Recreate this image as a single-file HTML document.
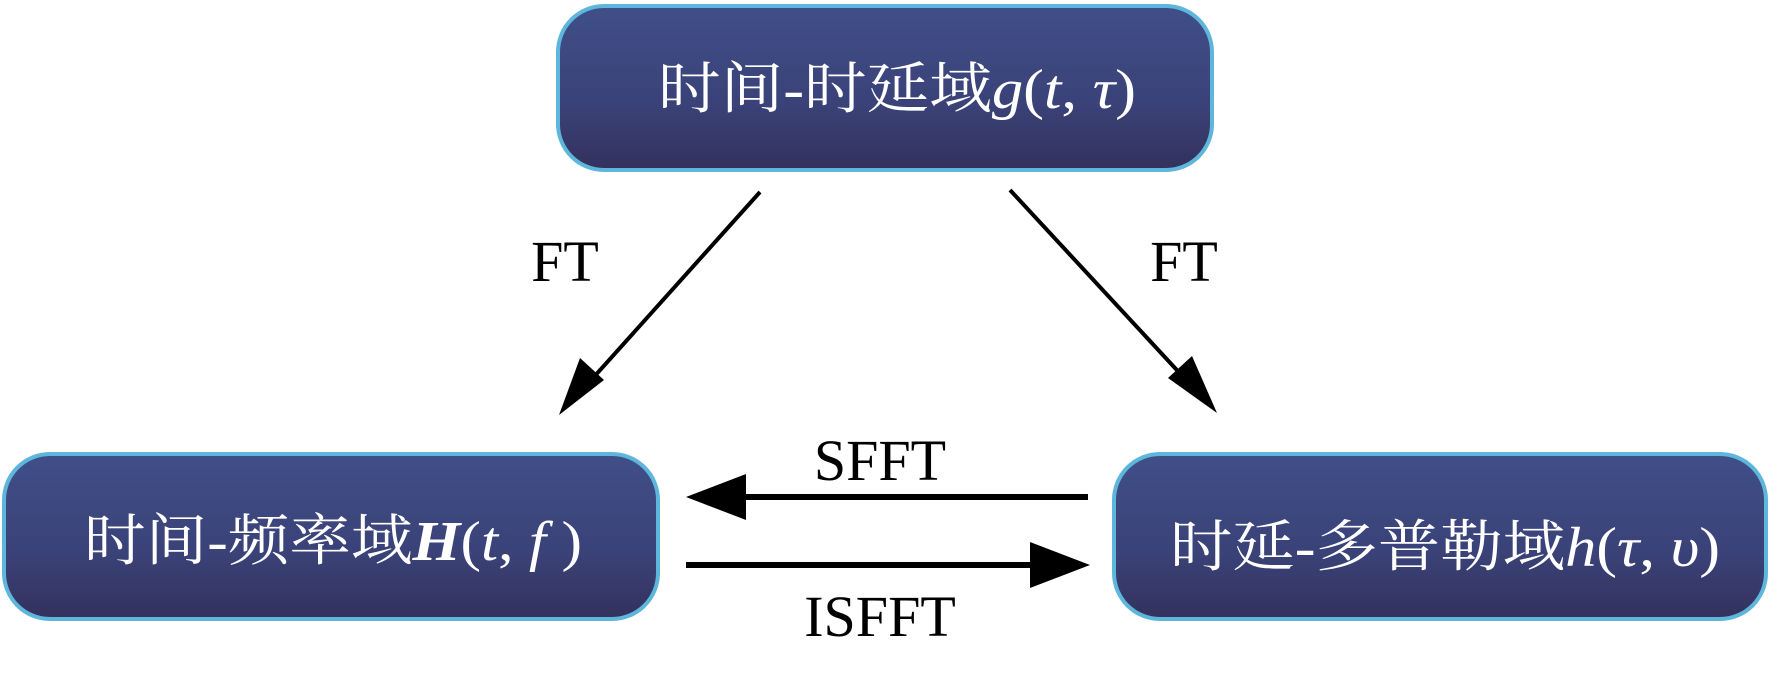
<!DOCTYPE html>
<html><head><meta charset="utf-8"><style>html,body{margin:0;padding:0;background:#fff;}svg{display:block}</style></head>
<body>
<svg width="1772" height="688" viewBox="0 0 1772 688" xmlns="http://www.w3.org/2000/svg">
<defs>
<linearGradient id="g" x1="0" y1="0" x2="0" y2="1">
<stop offset="0" stop-color="#404f88"/><stop offset="0.6" stop-color="#3a4278"/><stop offset="1" stop-color="#33315c"/>
</linearGradient>
</defs>
<g stroke="#5fb6dc" stroke-width="4" fill="url(#g)">
<rect x="558" y="6" width="654" height="164" rx="46"/>
<rect x="4" y="454" width="654" height="165" rx="46"/>
<rect x="1114" y="454" width="652" height="165" rx="46"/>
</g>
<g font-family="'Liberation Serif','Noto Serif CJK SC',serif" fill="#fff" font-size="56">
<text x="658" y="108" textLength="478" lengthAdjust="spacingAndGlyphs">时间-时延域<tspan font-style="italic">g</tspan>(<tspan font-style="italic">t</tspan>, <tspan font-style="italic">τ</tspan>)</text>
<text x="84" y="560" textLength="498" lengthAdjust="spacingAndGlyphs">时间-频率域<tspan font-style="italic" font-weight="bold">H</tspan>(<tspan font-style="italic">t</tspan>, <tspan font-style="italic">f</tspan> )</text>
<text x="1170" y="566" textLength="550" lengthAdjust="spacingAndGlyphs">时延-多普勒域<tspan font-style="italic">h</tspan>(<tspan font-style="italic">τ</tspan>, <tspan font-style="italic">υ</tspan>)</text>
</g>
<g stroke="#000" stroke-width="4" fill="none">
<line x1="760" y1="192" x2="575" y2="398"/>
<line x1="1010" y1="190" x2="1200" y2="395"/>
</g>
<polygon points="559,415 580,358 604,380" fill="#000"/>
<polygon points="1217,413 1168,378 1192,356" fill="#000"/>
<g stroke="#000" stroke-width="6">
<line x1="1088" y1="497" x2="730" y2="497"/>
<line x1="686" y1="565" x2="1040" y2="565"/>
</g>
<polygon points="686,497 746,474 746,520" fill="#000"/>
<polygon points="1090,565 1030,542 1030,588" fill="#000"/>
<g font-family="'Liberation Serif',serif" font-size="58" fill="#000" text-anchor="middle">
<text x="565" y="281">FT</text>
<text x="1184" y="281">FT</text>
<text x="880" y="480">SFFT</text>
<text x="880" y="636">ISFFT</text>
</g>
</svg>
</body></html>
